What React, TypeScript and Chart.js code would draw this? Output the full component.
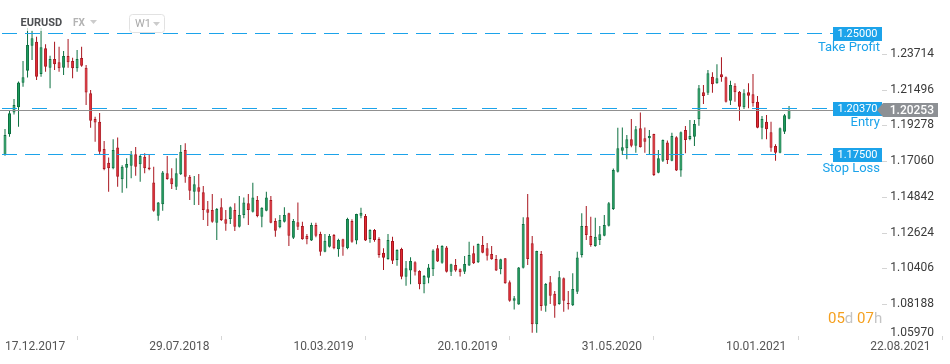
import { useEffect, useRef } from 'react';
import { Chart, registerables } from 'chart.js';

Chart.register(...registerables);

// Weekly EURUSD candles, week index 0 = 17.12.2017
const candleOpen = [
  1.1744, 1.1872, 1.2008, 1.2040, 1.2192, 1.2266, 1.2421, 1.2446, 1.2246, 1.2405,
  1.2285, 1.2339, 1.2319, 1.2285, 1.2358, 1.2327, 1.2281, 1.2345, 1.2285, 1.2126,
  1.1967, 1.1950, 1.1781, 1.1696, 1.1661, 1.1791, 1.1593, 1.1665, 1.1677, 1.1748,
  1.1686, 1.1733, 1.1667, 1.1574, 1.1367, 1.1438, 1.1630, 1.1599, 1.1547, 1.1624,
  1.1775, 1.1609, 1.1516, 1.1544, 1.1513, 1.1407, 1.1403, 1.1324, 1.1420, 1.1345,
  1.1347, 1.1403, 1.1299, 1.1372, 1.1444, 1.1392, 1.1465, 1.1361, 1.1398, 1.1465,
  1.1335, 1.1296, 1.1330, 1.1382, 1.1231, 1.1327, 1.1304, 1.1242, 1.1213, 1.1310,
  1.1254, 1.1144, 1.1175, 1.1248, 1.1159, 1.1221, 1.1165, 1.1335, 1.1213, 1.1367,
  1.1366, 1.1223, 1.1279, 1.1223, 1.1138, 1.1099, 1.1211, 1.1093, 1.1161, 1.0989,
  1.1027, 1.1079, 1.1025, 1.0942, 1.0983, 1.1035, 1.1165, 1.1076, 1.1171, 1.1020,
  1.1062, 1.1035, 1.1020, 1.1058, 1.1134, 1.1079, 1.1186, 1.1165, 1.1130, 1.1099,
  1.1035, 1.1103, 1.0955, 1.0841, 1.0817, 1.1045, 1.1358, 1.1196, 1.0694, 1.1130,
  1.0810, 1.0955, 1.0884, 1.0820, 1.0980, 1.0827, 1.0813, 1.0896, 1.1124, 1.1304,
  1.1242, 1.1180, 1.1217, 1.1243, 1.1305, 1.1409, 1.1640, 1.1770, 1.1785, 1.1841,
  1.1801, 1.1909, 1.1847, 1.1847, 1.1874, 1.1634, 1.1708, 1.1822, 1.1708, 1.1854,
  1.1647, 1.1899, 1.1843, 1.1857, 1.1965, 1.2133, 1.2130, 1.2229, 1.2188, 1.2244,
  1.2226, 1.2080, 1.2173, 1.2136, 1.2040, 1.2133, 1.2120, 1.2074, 1.1913, 1.1950,
  1.1885, 1.1800, 1.1758, 1.1888, 1.1969,
];
const candleHigh = [
  1.1905, 1.2023, 1.2091, 1.2200, 1.2327, 1.2531, 1.2515, 1.2477, 1.2531, 1.2430,
  1.2359, 1.2446, 1.2415, 1.2389, 1.2463, 1.2347, 1.2395, 1.2415, 1.2302, 1.2147,
  1.1981, 1.2004, 1.1831, 1.1729, 1.1841, 1.1853, 1.1680, 1.1723, 1.1769, 1.1793,
  1.1745, 1.1754, 1.1744, 1.1671, 1.1452, 1.1645, 1.1738, 1.1661, 1.1723, 1.1806,
  1.1816, 1.1620, 1.1614, 1.1626, 1.1552, 1.1459, 1.1502, 1.1415, 1.1475, 1.1403,
  1.1425, 1.1444, 1.1490, 1.1481, 1.1502, 1.1572, 1.1490, 1.1420, 1.1516, 1.1490,
  1.1351, 1.1372, 1.1420, 1.1386, 1.1347, 1.1449, 1.1330, 1.1254, 1.1324, 1.1324,
  1.1268, 1.1254, 1.1254, 1.1254, 1.1225, 1.1225, 1.1355, 1.1345, 1.1380, 1.1417,
  1.1378, 1.1283, 1.1285, 1.1234, 1.1165, 1.1254, 1.1237, 1.1160, 1.1169, 1.1087,
  1.1110, 1.1085, 1.1030, 1.1000, 1.1068, 1.1159, 1.1186, 1.1185, 1.1180, 1.1070,
  1.1099, 1.1040, 1.1118, 1.1206, 1.1181, 1.1195, 1.1242, 1.1199, 1.1180, 1.1124,
  1.1100, 1.1105, 1.0965, 1.0870, 1.1050, 1.1358, 1.1502, 1.1242, 1.1150, 1.1149,
  1.0950, 1.0994, 1.0900, 1.1025, 1.0985, 1.0900, 1.1010, 1.1144, 1.1382, 1.1428,
  1.1361, 1.1355, 1.1304, 1.1372, 1.1452, 1.1660, 1.1913, 1.1915, 1.1868, 1.1967,
  1.1924, 1.2008, 1.1915, 1.1899, 1.1875, 1.1775, 1.1840, 1.1833, 1.1882, 1.1860,
  1.1890, 1.1924, 1.1961, 1.1961, 1.2178, 1.2178, 1.2271, 1.2257, 1.2306, 1.2350,
  1.2230, 1.2204, 1.2188, 1.2140, 1.2151, 1.2188, 1.2246, 1.2110, 1.1986, 1.1992,
  1.1950, 1.1810, 1.1915, 1.1998, 1.2048,
];
const candleLow = [
  1.1739, 1.1857, 1.1995, 1.1919, 1.2167, 1.2225, 1.2333, 1.2209, 1.2229, 1.2260,
  1.2157, 1.2271, 1.2260, 1.2240, 1.2285, 1.2219, 1.2260, 1.2291, 1.2054, 1.1913,
  1.1826, 1.1748, 1.1650, 1.1516, 1.1655, 1.1547, 1.1510, 1.1537, 1.1599, 1.1615,
  1.1578, 1.1630, 1.1650, 1.1392, 1.1336, 1.1398, 1.1590, 1.1533, 1.1527, 1.1620,
  1.1572, 1.1465, 1.1434, 1.1434, 1.1341, 1.1304, 1.1324, 1.1217, 1.1335, 1.1274,
  1.1316, 1.1273, 1.1295, 1.1351, 1.1310, 1.1388, 1.1358, 1.1296, 1.1395, 1.1320,
  1.1237, 1.1290, 1.1325, 1.1180, 1.1223, 1.1279, 1.1218, 1.1190, 1.1210, 1.1234,
  1.1119, 1.1141, 1.1170, 1.1160, 1.1113, 1.1119, 1.1160, 1.1200, 1.1190, 1.1351,
  1.1210, 1.1200, 1.1206, 1.1107, 1.1031, 1.1095, 1.1068, 1.1057, 1.0973, 1.0933,
  1.0942, 1.0996, 1.0911, 1.0886, 1.0948, 1.0994, 1.1080, 1.1070, 1.1015, 1.0994,
  1.1020, 1.0990, 1.1006, 1.1055, 1.1068, 1.1075, 1.1135, 1.1089, 1.1095, 1.1025,
  1.1004, 1.0945, 1.0834, 1.0786, 1.0815, 1.1040, 1.1062, 1.0642, 1.0642, 1.0778,
  1.0772, 1.0820, 1.0735, 1.0815, 1.0772, 1.0786, 1.0808, 1.0882, 1.1109, 1.1217,
  1.1175, 1.1175, 1.1186, 1.1240, 1.1300, 1.1403, 1.1635, 1.1744, 1.1717, 1.1792,
  1.1758, 1.1790, 1.1758, 1.1744, 1.1614, 1.1630, 1.1700, 1.1688, 1.1705, 1.1645,
  1.1609, 1.1754, 1.1835, 1.1800, 1.1925, 1.2060, 1.2116, 1.2130, 1.2185, 1.2198,
  1.2070, 1.2054, 1.2074, 1.1956, 1.2029, 1.2033, 1.2043, 1.1910, 1.1841, 1.1841,
  1.1764, 1.1708, 1.1755, 1.1874, 1.1965,
];
const candleClose = [
  1.1868, 1.2002, 1.2054, 1.2194, 1.2226, 1.2426, 1.2467, 1.2229, 1.2412, 1.2291,
  1.2339, 1.2306, 1.2281, 1.2358, 1.2319, 1.2281, 1.2339, 1.2297, 1.2132, 1.1956,
  1.1946, 1.1764, 1.1657, 1.1661, 1.1775, 1.1609, 1.1671, 1.1688, 1.1748, 1.1671,
  1.1738, 1.1661, 1.1655, 1.1398, 1.1449, 1.1636, 1.1595, 1.1562, 1.1630, 1.1764,
  1.1609, 1.1522, 1.1562, 1.1516, 1.1403, 1.1386, 1.1330, 1.1409, 1.1341, 1.1318,
  1.1420, 1.1299, 1.1372, 1.1449, 1.1403, 1.1481, 1.1366, 1.1417, 1.1481, 1.1324,
  1.1274, 1.1341, 1.1372, 1.1243, 1.1335, 1.1299, 1.1222, 1.1221, 1.1310, 1.1243,
  1.1144, 1.1212, 1.1242, 1.1165, 1.1217, 1.1175, 1.1347, 1.1206, 1.1378, 1.1386,
  1.1213, 1.1279, 1.1217, 1.1124, 1.1107, 1.1217, 1.1088, 1.1155, 1.0989, 1.1041,
  1.1087, 1.1020, 1.0942, 1.0994, 1.1047, 1.1151, 1.1083, 1.1180, 1.1020, 1.1066,
  1.1027, 1.1017, 1.1068, 1.1124, 1.1072, 1.1192, 1.1138, 1.1119, 1.1097, 1.1027,
  1.1097, 1.0948, 1.0841, 1.0855, 1.1047, 1.1316, 1.1099, 1.0694, 1.1148, 1.0808,
  1.0944, 1.0871, 1.0810, 1.0986, 1.0841, 1.0818, 1.0913, 1.1109, 1.1304, 1.1248,
  1.1186, 1.1237, 1.1252, 1.1310, 1.1444, 1.1651, 1.1785, 1.1792, 1.1841, 1.1801,
  1.1903, 1.1792, 1.1826, 1.1862, 1.1620, 1.1723, 1.1837, 1.1713, 1.1862, 1.1647,
  1.1885, 1.1837, 1.1862, 1.1936, 1.2157, 1.2110, 1.2250, 1.2182, 1.2219, 1.2226,
  1.2074, 1.2178, 1.2133, 1.2043, 1.2126, 1.2111, 1.2064, 1.1913, 1.1967, 1.1903,
  1.1789, 1.1758, 1.1909, 1.1990, 1.2025,
];

// Date axis (week index -> label)
const dateTickIndex = [0, 32, 64, 96, 128, 160, 192];
const dateTickLabels = ['17.12.2017', '29.07.2018', '10.03.2019', '20.10.2019', '31.05.2020', '10.01.2021', '22.08.2021'];

// Price axis labels
const priceTicks = [1.23714, 1.21496, 1.19278, 1.1706, 1.14842, 1.12624, 1.10406, 1.08188, 1.0597];

// Order levels
const levelNames = ['Take Profit', 'Entry', 'Stop Loss'];
const levelValues = [1.25, 1.2037, 1.175];
const currentPrice = 1.20253;
const timerParts = ['05', 'd ', '07', 'h'];

const X_MIN = -1.11;
const X_MAX = 209.72;
const Y_MIN = 1.06217;
const Y_MAX = 1.27047;

const GREEN_FILL = '#1f9e5e';
const GREEN_EDGE = '#0c7040';
const RED_FILL = '#e52c35';
const RED_EDGE = '#a9161f';
const BLUE = '#1ca3ea';
const FONT = 'Roboto, "Noto Sans", sans-serif';

const levelDash = [[15, 8], [15, 15], [15, 8]];

function fmt(v: number) {
  return v.toFixed(5);
}

const overlayPlugin = {
  id: 'overlay',
  afterDatasetsDraw(chart: any) {
    const { ctx, scales } = chart;
    const y = scales.y;
    ctx.save();
    ctx.lineWidth = 1;
    const yp = Math.round(y.getPixelForValue(currentPrice)) + 0.5;
    ctx.strokeStyle = '#909090';
    ctx.setLineDash([]);
    ctx.beginPath();
    ctx.moveTo(0, yp);
    ctx.lineTo(882, yp);
    ctx.stroke();
    levelValues.forEach((v, k) => {
      const py = Math.round(y.getPixelForValue(v)) + 0.5;
      ctx.strokeStyle = BLUE;
      ctx.setLineDash(levelDash[k]);
      ctx.beginPath();
      ctx.moveTo(2, py);
      ctx.lineTo(833, py);
      ctx.stroke();
    });
    ctx.restore();
  },
  afterDraw(chart: any) {
    const { ctx, scales, chartArea } = chart;
    const y = scales.y;
    ctx.save();
    ctx.setLineDash([]);
    // price axis labels
    ctx.font = `12px ${FONT}`;
    ctx.textAlign = 'right';
    ctx.textBaseline = 'middle';
    priceTicks.forEach((v) => {
      let py = y.getPixelForValue(v);
      const inside = py < chartArea.bottom - 4;
      if (!inside) py = chartArea.bottom - 3;
      ctx.fillStyle = '#3a3a3a';
      ctx.fillText(fmt(v), 934, py);
      if (inside) {
        ctx.strokeStyle = '#d4d4d4';
        ctx.lineWidth = 1;
        ctx.beginPath();
        ctx.moveTo(882, Math.round(py) + 0.5);
        ctx.lineTo(887, Math.round(py) + 0.5);
        ctx.stroke();
      }
    });
    // level boxes & captions
    levelValues.forEach((v, k) => {
      const py = Math.round(y.getPixelForValue(v));
      ctx.fillStyle = BLUE;
      ctx.fillRect(833, py - 6, 49, 14);
      ctx.fillStyle = '#ffffff';
      ctx.font = `11px ${FONT}`;
      ctx.textAlign = 'center';
      ctx.textBaseline = 'middle';
      ctx.fillText(fmt(v), 857.5, py + 1);
      ctx.fillStyle = BLUE;
      ctx.font = `13px ${FONT}`;
      ctx.textAlign = 'right';
      ctx.fillText(levelNames[k], 880, py + 15);
    });
    // current price tag
    const cp = Math.round(y.getPixelForValue(currentPrice));
    ctx.fillStyle = '#8d9094';
    ctx.beginPath();
    ctx.moveTo(877, cp);
    ctx.lineTo(883, cp - 7);
    ctx.lineTo(938, cp - 7);
    ctx.lineTo(938, cp + 7);
    ctx.lineTo(883, cp + 7);
    ctx.closePath();
    ctx.fill();
    ctx.fillStyle = '#ffffff';
    ctx.font = `500 12px ${FONT}`;
    ctx.textAlign = 'right';
    ctx.textBaseline = 'middle';
    ctx.fillText(fmt(currentPrice), 934, cp + 0.5);
    // timer
    ctx.font = `15px ${FONT}`;
    ctx.textAlign = 'left';
    let tx = 828;
    timerParts.forEach((t, k) => {
      ctx.fillStyle = k % 2 === 0 ? '#f5a01f' : '#c4c4c4';
      ctx.fillText(t, tx, 319);
      tx += ctx.measureText(t).width;
    });
    // header
    ctx.fillStyle = 'rgba(255,255,255,0.72)';
    ctx.fillRect(17, 14, 84, 17);
    ctx.fillStyle = '#4d4f52';
    ctx.font = `bold 11px ${FONT}`;
    ctx.textAlign = 'left';
    ctx.fillText('EURUSD', 20.5, 23);
    ctx.fillStyle = '#b3b3b3';
    ctx.font = `bold 10px ${FONT}`;
    ctx.fillText('FX', 73, 23.5);
    ctx.fillStyle = '#cccccc';
    ctx.beginPath();
    ctx.moveTo(90, 20);
    ctx.lineTo(97, 20);
    ctx.lineTo(93.5, 24);
    ctx.closePath();
    ctx.fill();
    ctx.fillStyle = '#ffffff';
    ctx.strokeStyle = '#e2e2e2';
    ctx.lineWidth = 1;
    ctx.beginPath();
    (ctx as any).roundRect(129.5, 14.5, 35, 18, 3);
    ctx.fill();
    ctx.stroke();
    ctx.fillStyle = '#a9a9a9';
    ctx.font = `11px ${FONT}`;
    ctx.fillText('W1', 135, 24);
    ctx.fillStyle = '#cccccc';
    ctx.beginPath();
    ctx.moveTo(153, 22);
    ctx.lineTo(160, 22);
    ctx.lineTo(156.5, 26);
    ctx.closePath();
    ctx.fill();
    ctx.restore();
  },
};

export default function App() {
  const canvasRef = useRef<HTMLCanvasElement | null>(null);

  useEffect(() => {
    const canvas = canvasRef.current;
    if (!canvas) return;
    const idx = candleOpen.map((_, i) => i);
    const up = idx.map((i) => candleClose[i] >= candleOpen[i]);
    const chart = new Chart(canvas, {
      type: 'bar',
      data: {
        datasets: [
          {
            label: 'wick',
            data: idx.map((i) => ({ x: i, y: [candleLow[i], candleHigh[i]] })) as any,
            backgroundColor: up.map((u) => (u ? GREEN_EDGE : RED_EDGE)),
            borderWidth: 0,
            maxBarThickness: 1,
            grouped: false,
            order: 2,
          } as any,
          {
            label: 'body',
            data: idx.map((i) => ({
              x: i,
              y: [Math.min(candleOpen[i], candleClose[i]), Math.max(candleOpen[i], candleClose[i])],
            })) as any,
            backgroundColor: up.map((u) => (u ? GREEN_FILL : RED_FILL)),
            borderColor: up.map((u) => (u ? GREEN_EDGE : RED_EDGE)),
            borderWidth: 1,
            borderSkipped: false,
            maxBarThickness: 3,
            grouped: false,
            order: 1,
          } as any,
        ],
      },
      options: {
        animation: false,
        responsive: false,
        maintainAspectRatio: false,
        layout: { padding: 0 },
        plugins: { legend: { display: false }, tooltip: { enabled: false } },
        scales: {
          x: {
            type: 'linear',
            min: X_MIN,
            max: X_MAX,
            offset: false,
            border: { display: false },
            grid: { display: true, drawOnChartArea: false, drawTicks: true, tickLength: 4, color: '#d6d6d6' },
            afterBuildTicks: (s: any) => {
              s.ticks = dateTickIndex.map((v) => ({ value: v }));
            },
            afterFit: (s: any) => {
              s.height = 28;
            },
            ticks: {
              autoSkip: false,
              maxRotation: 0,
              minRotation: 0,
              align: 'start',
              padding: 0,
              color: '#555555',
              font: { family: FONT, size: 12 },
              callback: (v: any) => {
                const k = dateTickIndex.indexOf(Number(v));
                return k >= 0 ? dateTickLabels[k] : '';
              },
            },
          } as any,
          y: { type: 'linear', display: false, min: Y_MIN, max: Y_MAX },
        },
      },
      plugins: [overlayPlugin],
    });
    return () => chart.destroy();
  }, []);

  return (
    <div style={{ position: 'fixed', left: 0, top: 0, width: 950, height: 364, background: '#ffffff' }}>
      <canvas ref={canvasRef} width={950} height={364} style={{ display: 'block', width: 950, height: 364 }} />
    </div>
  );
}
